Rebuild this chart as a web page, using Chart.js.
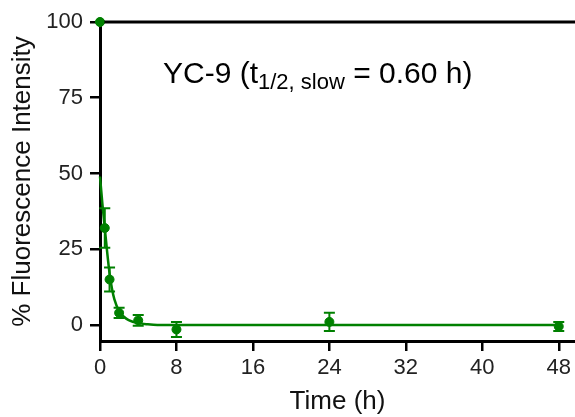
<!DOCTYPE html>
<html>
<head>
<meta charset="utf-8">
<script src="https://cdn.jsdelivr.net/npm/chart.js@4"></script>
<style>
html,body{margin:0;padding:0;background:#fff;}
canvas{display:block;}
</style>
</head>
<body>
<canvas id="c" width="575" height="417"></canvas>
<script>
// Measured data (mean ± error)
const timeH = [0, 0.5, 1, 2, 4, 8, 24, 48];
const fluorescence = [100, 32, 15, 4, 1.5, -1.5, 1, -0.5];
const errorBars = [0, 6.5, 4, 1.7, 1.8, 2.5, 3, 1.5];
// Fitted decay curve
const fitTime = [0, 0.25, 0.5, 0.75, 1, 1.25, 1.5, 2, 2.5, 3, 4, 5, 6, 8, 48];
const fitValue = [49, 40, 32, 24, 17, 12, 8.5, 4.5, 2.7, 1.6, 0.6, 0.2, 0, 0, 0];
const xTicks = [0, 8, 16, 24, 32, 40, 48];
const yTicks = [0, 25, 50, 75, 100];

const GREEN = 'rgb(0,128,0)';
const FONT = "'Liberation Sans', Arial, sans-serif";

const errorBarPlugin = {
  id: 'errorBars',
  afterDatasetsDraw(chart) {
    const ctx = chart.ctx;
    const xs = chart.scales.x, ys = chart.scales.y;
    ctx.save();
    ctx.strokeStyle = GREEN;
    ctx.lineWidth = 2;
    for (let i = 0; i < timeH.length; i++) {
      const e = errorBars[i];
      if (!e) continue;
      const px = xs.getPixelForValue(timeH[i]);
      const top = ys.getPixelForValue(fluorescence[i] + e);
      const bot = ys.getPixelForValue(fluorescence[i] - e);
      ctx.beginPath();
      ctx.moveTo(px, top); ctx.lineTo(px, bot);
      ctx.moveTo(px - 5.5, top); ctx.lineTo(px + 5.5, top);
      ctx.moveTo(px - 5.5, bot); ctx.lineTo(px + 5.5, bot);
      ctx.stroke();
    }
    ctx.restore();
  }
};

const framePlugin = {
  id: 'frame',
  afterDraw(chart) {
    const ctx = chart.ctx;
    const a = chart.chartArea;
    ctx.save();
    ctx.strokeStyle = '#000';
    ctx.lineWidth = 3;
    ctx.beginPath();
    ctx.moveTo(a.left, a.top);
    ctx.lineTo(a.right, a.top);
    ctx.stroke();
    const xs = chart.scales.x, ys = chart.scales.y;
    ctx.fillStyle = GREEN;
    ctx.beginPath();
    ctx.arc(xs.getPixelForValue(timeH[0]), ys.getPixelForValue(fluorescence[0]), 4.5, 0, Math.PI * 2);
    ctx.fill();
    // annotation
    ctx.fillStyle = '#000';
    ctx.textBaseline = 'alphabetic';
    let x = 163;
    const y = 83;
    ctx.font = '30px ' + FONT;
    ctx.fillText('YC-9 (t', x, y);
    x += ctx.measureText('YC-9 (t').width;
    ctx.font = '22px ' + FONT;
    ctx.fillText('1/2, slow', x, y + 6);
    x += ctx.measureText('1/2, slow').width;
    ctx.font = '30px ' + FONT;
    ctx.fillText(' = 0.60 h)', x, y);
    ctx.restore();
  }
};

new Chart(document.getElementById('c'), {
  type: 'scatter',
  data: {
    datasets: [
      {
        label: 'fit',
        type: 'line',
        data: fitTime.map((t, i) => ({x: t, y: fitValue[i]})),
        borderColor: GREEN,
        borderWidth: 2.5,
        pointRadius: 0,
        fill: false,
        cubicInterpolationMode: 'monotone',
        clip: false
      },
      {
        label: 'YC-9',
        data: timeH.map((t, i) => ({x: t, y: fluorescence[i]})),
        backgroundColor: GREEN,
        borderColor: GREEN,
        pointRadius: 4.5,
        clip: false
      }
    ]
  },
  options: {
    responsive: false,
    animation: false,
    devicePixelRatio: 1,
    layout: {autoPadding: false, padding: {top: 22, right: 0, left: 0, bottom: 0}},
    plugins: {legend: {display: false}, tooltip: {enabled: false}},
    scales: {
      x: {
        type: 'linear',
        min: 0,
        max: 49.7,
        afterBuildTicks: s => { s.ticks = xTicks.map(v => ({value: v})); },
        afterFit: s => { s.height = 76; s.paddingRight = 0; s.paddingLeft = 0; },
        grid: {display: true, drawOnChartArea: false, drawTicks: true, tickLength: 10, color: '#000', lineWidth: 2.5},
        border: {display: true, color: '#000', width: 3},
        ticks: {color: '#222', padding: 4, font: {family: FONT, size: 22}, maxRotation: 0},
        title: {display: true, text: 'Time (h)', color: '#111', font: {family: FONT, size: 26}, padding: {top: 0, bottom: 0}}
      },
      y: {
        type: 'linear',
        min: -5.3,
        max: 100,
        afterBuildTicks: s => { s.ticks = yTicks.map(v => ({value: v})); },
        afterFit: s => { s.width = 100; s.paddingTop = 0; s.paddingBottom = 0; },
        grid: {display: true, drawOnChartArea: false, drawTicks: true, tickLength: 10, color: '#000', lineWidth: 2.5},
        border: {display: true, color: '#000', width: 3},
        ticks: {color: '#222', padding: 7, font: {family: FONT, size: 22}},
        title: {display: true, text: '% Fluorescence Intensity', color: '#111', font: {family: FONT, size: 26}, padding: {top: 7, bottom: 0}}
      }
    }
  },
  plugins: [errorBarPlugin, framePlugin]
});
</script>
</body>
</html>
